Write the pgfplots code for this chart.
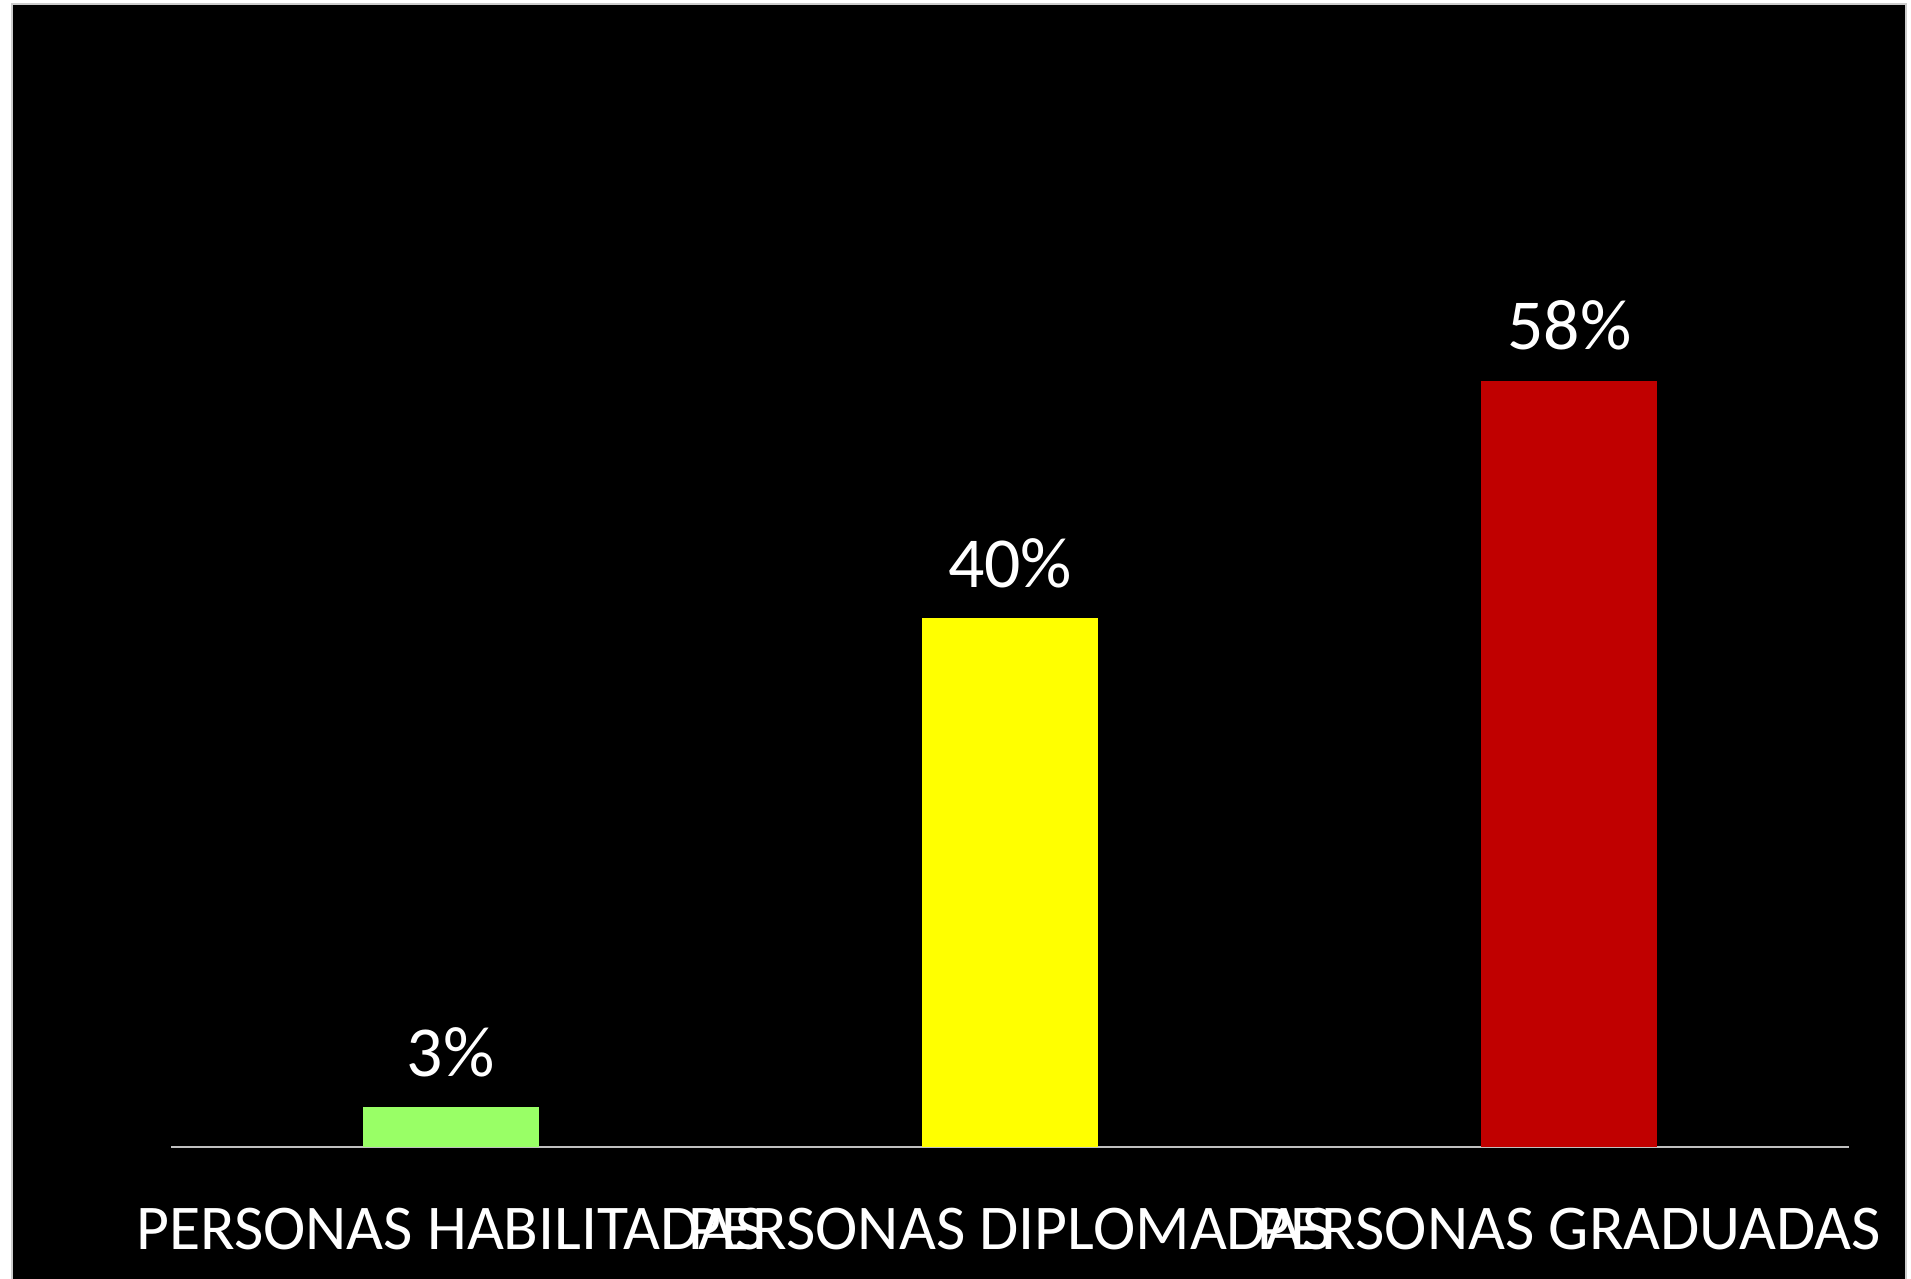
\documentclass[border=0pt]{standalone}
\usepackage{fontspec}
\setmainfont{Carlito}
\usepackage{pgfplots}
\pgfplotsset{compat=1.18}
\definecolor{barGreen}{HTML}{99FF66}
\definecolor{barYellow}{HTML}{FFFF00}
\definecolor{barRed}{HTML}{C00000}
\definecolor{axisGray}{HTML}{BFBFBF}
\begin{document}
\begin{tikzpicture}
  % page background: white frame, black chart area
  \fill[white] (0,0) rectangle (955.5bp,639.5bp);
  \fill[black] (6bp,0) rectangle (953bp,637.5bp);
  \draw[gray!40, line width=0.6bp] (6bp,0) -- (6bp,637.5bp) -- (953bp,637.5bp) -- (953bp,0);
  \begin{axis}[
    at={(85.5bp,66bp)}, anchor=south west,
    scale only axis, width=839bp, height=571.5bp,
    ybar, bar width=88bp, bar shift=0pt,
    xmin=-0.5, xmax=2.5, ymin=0, ymax=86.5,
    axis y line=none, axis x line*=bottom,
    x axis line style={draw=axisGray, line width=1bp, -},
    xtick={0,1,2}, major tick length=0pt,
    xticklabels={PERSONAS HABILITADAS, PERSONAS DIPLOMADAS, PERSONAS GRADUADAS},
    xticklabel style={font=\fontsize{32}{36}\selectfont, white, anchor=base, yshift=-51bp, inner sep=0pt},
    /pgf/number format/assume math mode=true,
    nodes near coords={\pgfmathprintnumber{\pgfplotspointmeta}\%},
    nodes near coords style={font=\fontsize{36}{40}\selectfont, white, anchor=base, inner sep=0pt, yshift=15.5bp},
    every axis plot/.append style={draw=none},
  ]
    \addplot[fill=barGreen] coordinates {(0,3)};
    \addplot[fill=barYellow] coordinates {(1,40)};
    \addplot[fill=barRed] coordinates {(2,58)};
  \end{axis}
  \pgfresetboundingbox
  \path (0,0) rectangle (955.5bp,639.5bp);
\end{tikzpicture}
\end{document}
